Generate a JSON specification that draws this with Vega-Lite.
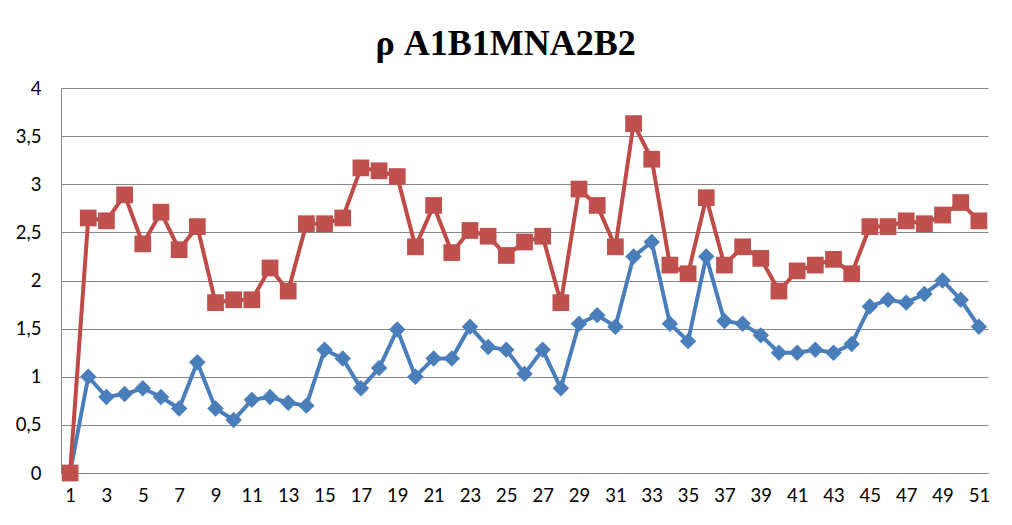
{
  "$schema": "https://vega.github.io/schema/vega-lite/v6.json",
  "width": 927,
  "height": 385,
  "autosize": "none",
  "padding": {"left": 61, "top": 88, "right": 24, "bottom": 52},
  "background": "white",
  "title": {
    "text": "ρ A1B1MNA2B2",
    "font": "Liberation Serif",
    "fontSize": 36,
    "fontWeight": "bold",
    "color": "black",
    "anchor": "middle",
    "baseline": "alphabetic",
    "offset": -12,
    "dx": -19
  },
  "config": {
    "view": {"stroke": null},
    "axis": {
      "labelFont": "Lato",
      "labelFontSize": 18.5,
      "labelColor": "black",
      "domainColor": "#868686",
      "gridColor": "#868686",
      "ticks": false,
      "title": null
    }
  },
  "data": {
    "values": [
      {"i": 1, "blue": 0, "red": 0},
      {"i": 2, "blue": 1.0, "red": 2.65},
      {"i": 3, "blue": 0.79, "red": 2.62},
      {"i": 4, "blue": 0.82, "red": 2.89},
      {"i": 5, "blue": 0.88, "red": 2.38},
      {"i": 6, "blue": 0.79, "red": 2.71},
      {"i": 7, "blue": 0.67, "red": 2.32},
      {"i": 8, "blue": 1.15, "red": 2.56},
      {"i": 9, "blue": 0.67, "red": 1.77},
      {"i": 10, "blue": 0.55, "red": 1.8},
      {"i": 11, "blue": 0.76, "red": 1.8},
      {"i": 12, "blue": 0.79, "red": 2.13},
      {"i": 13, "blue": 0.73, "red": 1.89},
      {"i": 14, "blue": 0.7, "red": 2.59},
      {"i": 15, "blue": 1.28, "red": 2.59},
      {"i": 16, "blue": 1.19, "red": 2.65},
      {"i": 17, "blue": 0.88, "red": 3.17},
      {"i": 18, "blue": 1.09, "red": 3.14},
      {"i": 19, "blue": 1.49, "red": 3.08},
      {"i": 20, "blue": 1.0, "red": 2.35},
      {"i": 21, "blue": 1.19, "red": 2.78},
      {"i": 22, "blue": 1.19, "red": 2.29},
      {"i": 23, "blue": 1.52, "red": 2.52},
      {"i": 24, "blue": 1.31, "red": 2.46},
      {"i": 25, "blue": 1.28, "red": 2.26},
      {"i": 26, "blue": 1.03, "red": 2.4},
      {"i": 27, "blue": 1.28, "red": 2.46},
      {"i": 28, "blue": 0.88, "red": 1.77},
      {"i": 29, "blue": 1.55, "red": 2.95},
      {"i": 30, "blue": 1.64, "red": 2.78},
      {"i": 31, "blue": 1.52, "red": 2.35},
      {"i": 32, "blue": 2.25, "red": 3.63},
      {"i": 33, "blue": 2.4, "red": 3.26},
      {"i": 34, "blue": 1.55, "red": 2.16},
      {"i": 35, "blue": 1.37, "red": 2.07},
      {"i": 36, "blue": 2.25, "red": 2.86},
      {"i": 37, "blue": 1.58, "red": 2.16},
      {"i": 38, "blue": 1.55, "red": 2.35},
      {"i": 39, "blue": 1.43, "red": 2.23},
      {"i": 40, "blue": 1.25, "red": 1.89},
      {"i": 41, "blue": 1.25, "red": 2.1},
      {"i": 42, "blue": 1.28, "red": 2.16},
      {"i": 43, "blue": 1.25, "red": 2.22},
      {"i": 44, "blue": 1.34, "red": 2.07},
      {"i": 45, "blue": 1.73, "red": 2.56},
      {"i": 46, "blue": 1.8, "red": 2.56},
      {"i": 47, "blue": 1.77, "red": 2.62},
      {"i": 48, "blue": 1.86, "red": 2.59},
      {"i": 49, "blue": 2.0, "red": 2.68},
      {"i": 50, "blue": 1.8, "red": 2.81},
      {"i": 51, "blue": 1.52, "red": 2.62}
    ]
  },
  "encoding": {
    "x": {
      "field": "i",
      "type": "ordinal",
      "scale": {"type": "point", "padding": 0.5},
      "axis": {
        "labelAngle": 0,
        "labelPadding": 13,
        "grid": false,
        "labelExpr": "datum.value % 2 == 1 ? datum.label : ''"
      }
    }
  },
  "layer": [
    {
      "mark": {
        "type": "line",
        "color": "#4A7EBB",
        "strokeWidth": 4,
        "point": {"shape": "diamond", "size": 270, "color": "#4A7EBB", "opacity": 1}
      },
      "encoding": {
        "y": {
          "field": "blue",
          "type": "quantitative",
          "scale": {"domain": [0, 4]},
          "axis": {
            "values": [0, 0.5, 1, 1.5, 2, 2.5, 3, 3.5, 4],
            "format": "~g",
            "labelExpr": "replace(datum.label, '.', ',')",
            "labelPadding": 20
          }
        }
      }
    },
    {
      "mark": {
        "type": "line",
        "color": "#BE4B48",
        "strokeWidth": 4,
        "point": {"shape": "square", "size": 280, "color": "#C0504D", "opacity": 1}
      },
      "encoding": {
        "y": {"field": "red", "type": "quantitative"}
      }
    }
  ]
}
